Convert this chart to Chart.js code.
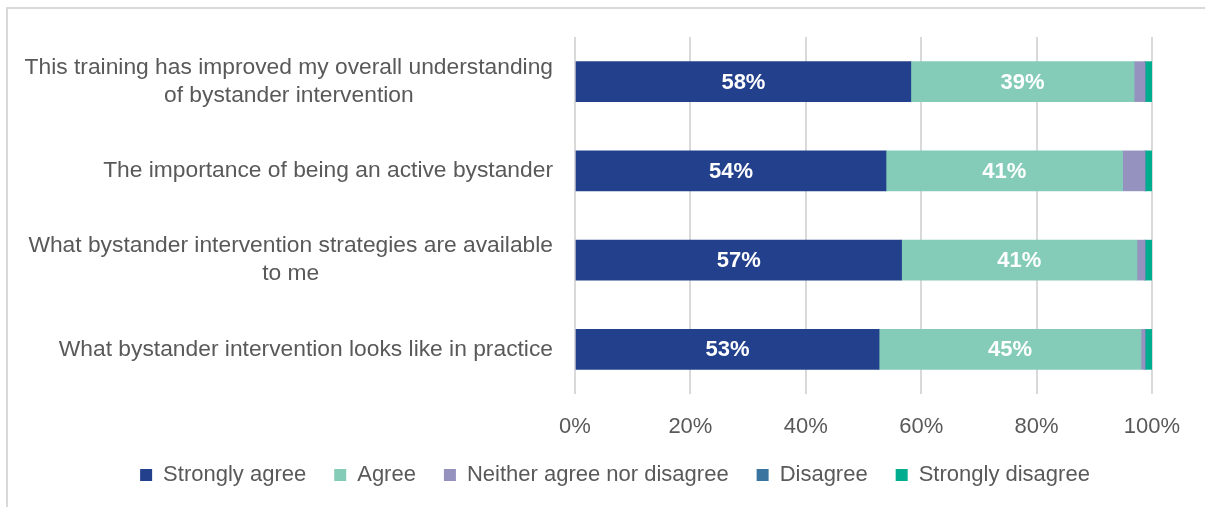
<!DOCTYPE html>
<html>
<head>
<meta charset="utf-8">
<script src="https://cdn.jsdelivr.net/npm/chart.js@4"></script>
<style>
  body { margin: 0; background: #fff; }
  #wrap { position: relative; width: 1205px; height: 507px; }
  #frame { position: absolute; left: 6px; top: 7px; right: -2px; bottom: -2px;
           border-left: 2px solid #d9d9d9; border-top: 2px solid #d9d9d9; pointer-events: none; }
</style>
</head>
<body>
<div id="wrap">
  <canvas id="myChart" width="1205" height="507"></canvas>
  <div id="frame"></div>
</div>
<script>
var statements = [
  ["This training has improved my overall understanding", "of bystander intervention"],
  ["The importance of being an active bystander"],
  ["What bystander intervention strategies are available", "to me"],
  ["What bystander intervention looks like in practice"]
];
var stronglyAgree = [58.2, 53.9, 56.6, 52.7];
var agree = [38.7, 41.0, 40.8, 45.4];
var neither = [1.9, 3.9, 1.4, 0.7];
var disagree = [0, 0, 0, 0];
var stronglyDisagree = [1.2, 1.2, 1.2, 1.2];
var xTicks = [0, 20, 40, 60, 80, 100];

var grey = '#595959';
var font = 'Liberation Sans, Arial, sans-serif';

// category text, right aligned as a block with each line centred inside it
var statementLabels = {
  id: 'statementLabels',
  afterDraw: function(chart) {
    var ctx = chart.ctx;
    var y = chart.scales.y;
    ctx.save();
    ctx.font = '22.8px ' + font;
    ctx.fillStyle = grey;
    ctx.textAlign = 'center';
    ctx.textBaseline = 'middle';
    statements.forEach(function(lines, i) {
      var w = Math.max.apply(null, lines.map(function(l) { return ctx.measureText(l).width; }));
      var cx = 553 - w / 2;
      var cy = y.getPixelForValue(i) - (lines.length - 1) * 14;
      lines.forEach(function(l, j) { ctx.fillText(l, cx, cy + j * 28); });
    });
    ctx.restore();
  }
};

// percentage text inside the larger segments
var valueLabels = {
  id: 'valueLabels',
  afterDatasetsDraw: function(chart) {
    var ctx = chart.ctx;
    ctx.save();
    ctx.font = 'bold 22px ' + font;
    ctx.fillStyle = '#ffffff';
    ctx.textAlign = 'center';
    ctx.textBaseline = 'middle';
    chart.data.datasets.forEach(function(ds, di) {
      if (di > 1) return;
      chart.getDatasetMeta(di).data.forEach(function(bar, i) {
        var p = bar.getCenterPoint();
        ctx.fillText(Math.round(ds.data[i]) + '%', p.x, p.y + 1);
      });
    });
    ctx.restore();
  }
};

var ctx = document.getElementById("myChart").getContext("2d");
var myNewChart = new Chart(ctx, {
  type: 'bar',
  data: {
    labels: statements.map(function(l) { return l.join(' '); }),
    datasets: [
      { label: 'Strongly agree', data: stronglyAgree, backgroundColor: '#22408c' },
      { label: 'Agree', data: agree, backgroundColor: '#84ccb7' },
      { label: 'Neither agree nor disagree', data: neither, backgroundColor: '#9592c0' },
      { label: 'Disagree', data: disagree, backgroundColor: '#3a75a0' },
      { label: 'Strongly disagree', data: stronglyDisagree, backgroundColor: '#00ad8e' }
    ]
  },
  options: {
    responsive: false,
    animation: false,
    indexAxis: 'y',
    layout: { padding: { left: 25, top: 37, right: 0, bottom: 11 } },
    datasets: { bar: { barThickness: 40 } },
    scales: {
      x: {
        stacked: true,
        min: 0,
        max: 100,
        afterBuildTicks: function(s) { s.ticks = xTicks.map(function(v) { return { value: v }; }); },
        afterFit: function(s) { s.height = 42; },
        grid: { color: '#d9d9d9', lineWidth: 2, drawTicks: false },
        border: { display: false },
        ticks: {
          padding: 20,
          color: grey,
          font: { family: font, size: 22 },
          callback: function(v) { return v + '%'; }
        }
      },
      y: {
        stacked: true,
        afterFit: function(s) { s.width = 550; },
        grid: { display: false },
        border: { display: false },
        ticks: { display: false }
      },
      // empty margin on the right of the bars
      yRight: {
        position: 'right',
        afterFit: function(s) { s.width = 53; },
        grid: { display: false },
        border: { display: false },
        ticks: { display: false }
      }
    },
    plugins: {
      legend: {
        position: 'bottom',
        labels: {
          boxWidth: 12,
          boxHeight: 12,
          padding: 28,
          color: grey,
          font: { family: font, size: 22 }
        }
      },
      tooltip: { enabled: false }
    }
  },
  plugins: [statementLabels, valueLabels]
});
</script>
</body>
</html>
